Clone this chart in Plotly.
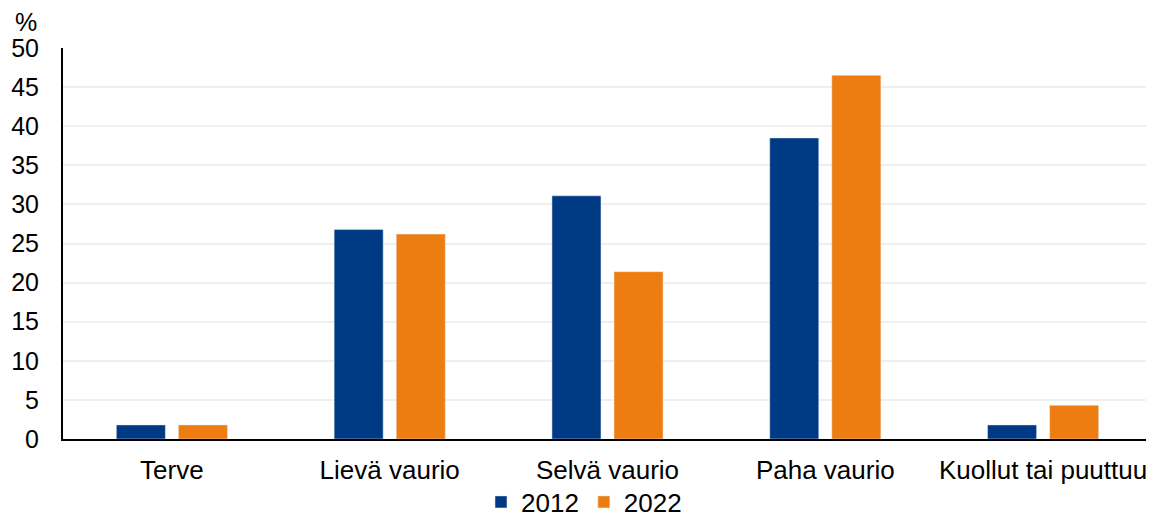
import plotly.graph_objects as go

categories = ["Terve", "Lievä vaurio", "Selvä vaurio", "Paha vaurio", "Kuollut tai puuttuu"]
values_2012 = [1.8, 26.8, 31.1, 38.5, 1.8]
values_2022 = [1.8, 26.2, 21.4, 46.5, 4.3]
y_ticks = [0, 5, 10, 15, 20, 25, 30, 35, 40, 45, 50]

FONT = "Liberation Sans, Arial, sans-serif"
W, H = 1146, 513  # page body has an 8px margin

fig = go.Figure()
fig.add_trace(go.Bar(name="2012", x=categories, y=values_2012, marker_color="#003A84"))
fig.add_trace(go.Bar(name="2022", x=categories, y=values_2022, marker_color="#EE7D11"))

fig.update_layout(
    width=W, height=H,
    margin=dict(l=55, r=2, t=40, b=82, autoexpand=False),
    paper_bgcolor="white", plot_bgcolor="white",
    barmode="group", bargap=0.43, bargroupgap=0.21,
    font=dict(family=FONT, size=26, color="black"),
    legend=dict(orientation="h", x=(584 - 8) / W, xanchor="center", xref="container",
                y=(H - 494) / H, yanchor="middle", yref="container",
                font=dict(size=26), itemwidth=30, traceorder="normal"),
    showlegend=True,
)
fig.update_yaxes(range=[0, 50], tickvals=y_ticks, showgrid=True, gridcolor="#EFEFEF", gridwidth=2,
                 showline=True, linecolor="black", linewidth=2, ticks="", ticklabelstandoff=17,
                 zeroline=False, automargin=False, tickfont=dict(size=25))
fig.update_xaxes(showline=True, linecolor="black", linewidth=2, ticks="", ticklabelstandoff=7,
                 automargin=False, tickfont=dict(size=26))
fig.add_annotation(text="%", xref="paper", yref="paper", x=(26 - 63) / 1089, y=1 + (48 - 22) / 391,
                   xanchor="center", yanchor="middle", showarrow=False, font=dict(size=25))

fig.write_html("out.html")
